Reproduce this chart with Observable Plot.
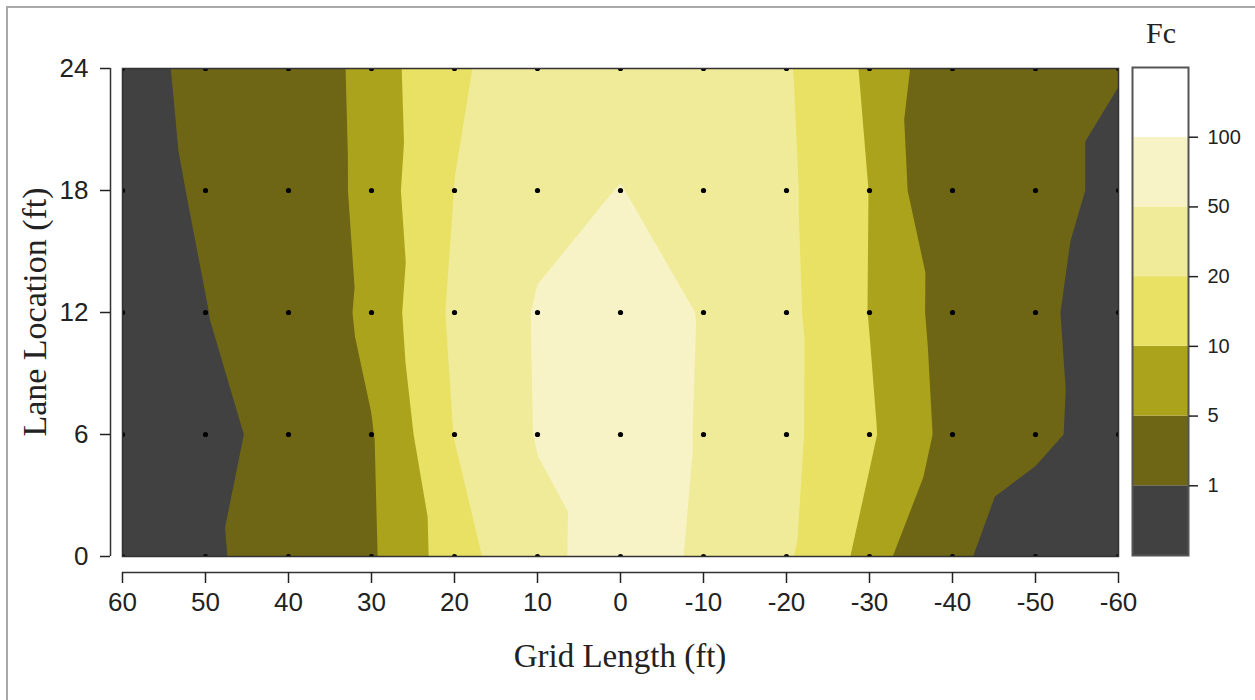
<!DOCTYPE html>
<html><head><meta charset="utf-8">
<script src="https://cdn.jsdelivr.net/npm/d3@7"></script>
<script src="https://cdn.jsdelivr.net/npm/@observablehq/plot@0.6"></script>
<style>
body{margin:0;background:#fff;}
#wrap{position:relative;width:1255px;height:700px;overflow:hidden;background:#fff;}
#border{position:absolute;left:6px;top:6px;right:-10px;bottom:-10px;border-left:2px solid #a9a9a9;border-top:2px solid #a9a9a9;}
.title{position:absolute;font-family:"Liberation Serif","Times New Roman",serif;color:#222;white-space:nowrap;}
</style></head><body>
<div id="wrap">
<div id="border"></div>
<div id="main" style="position:absolute;left:0;top:0"></div>
<div id="legend" style="position:absolute;left:1122px;top:0"></div>
<div class="title" style="left:470px;width:300px;text-align:center;top:640px;font-size:33px;line-height:33px">Grid Length (ft)</div>
<div class="title" style="left:-115px;width:300px;text-align:center;top:295px;font-size:34px;line-height:34px;transform:rotate(-90deg)">Lane Location (ft)</div>
<div class="title" style="left:1111px;width:100px;text-align:center;top:18px;font-size:30px;line-height:30px">Fc</div>
</div>
<script>
// Grid measurement positions
const gridLength = [60, 50, 40, 30, 20, 10, 0, -10, -20, -30, -40, -50, -60];
const laneLocation = [0, 6, 12, 18, 24];
// Fc values per lane row
const fcLane0  = [0.25, 0.78, 2.0, 4.6, 14.2, 39.8, 75, 44, 21.9, 7.9, 1.54, 0.27, 0.16];
const fcLane6  = [0.20, 0.50, 2.24, 4.8, 20.4, 52.4, 74, 47.1, 23.5, 11.0, 3.9, 1.58, 0.41];
const fcLane12 = [0.32, 0.96, 2.56, 6.1, 23.2, 53.5, 70.8, 48.1, 23.6, 9.8, 3.59, 1.41, 0.45];
const fcLane18 = [0.48, 1.26, 2.3, 6.8, 20.2, 39.8, 51, 35.5, 22.6, 9.9, 2.24, 1.78, 0.68];
const fcLane24 = [0.62, 1.41, 2.31, 7.1, 18.2, 28.2, 35.5, 31.6, 21.4, 8.9, 2.74, 1.78, 1.07];
// Contour levels and legend
const levels = [1, 5, 10, 20, 50, 100];
const legendLabels = ["1", "5", "10", "20", "50", "100"];
const bandColors = ["#414141", "#6e6614", "#aca31c", "#e8e163", "#f0eb98", "#f7f3c6", "#ffffff"];

const fcRows = [fcLane0, fcLane6, fcLane12, fcLane18, fcLane24];
const points = laneLocation.flatMap((y, j) => gridLength.map((x, i) => ({x, y, fc: fcRows[j][i]})));
const logLevels = levels.map(v => Math.log10(v));
const sans = "'Liberation Sans', Arial, sans-serif";

const main = Plot.plot({
  width: 1150, height: 630,
  marginTop: 68, marginBottom: 74, marginLeft: 122, marginRight: 32,
  x: {domain: [60, -60]},
  y: {domain: [0, 24]},
  color: {type: "threshold", domain: logLevels, range: bandColors},
  style: {fontFamily: sans, color: "#222", background: "transparent"},
  marks: [
    Plot.contour(points, {
      x: "x", y: "y", value: d => Math.log10(d.fc),
      fill: "value", stroke: "none",
      thresholds: [-10, ...logLevels],
      interpolate: "barycentric", pixelSize: 1, clip: true
    }),
    Plot.dot(points, {x: "x", y: "y", r: 2.6, fill: "#000", stroke: "none", clip: true}),
    Plot.frame({stroke: "#333", strokeWidth: 1.5}),
    Plot.ruleY([0], {dy: 16, stroke: "#333", strokeWidth: 1.5}),
    Plot.axisX(gridLength, {anchor: "bottom", dy: 16, tickSize: 11, tickPadding: 9, fontSize: 26,
      tickFormat: d => String(d), label: null, strokeWidth: 1.5, color: "#222"}),
    Plot.ruleX([60], {dx: -12, stroke: "#333", strokeWidth: 1.5}),
    Plot.axisY(laneLocation, {anchor: "left", dx: -12, tickSize: 10, tickPadding: 12, fontSize: 26,
      tickFormat: d => String(d), label: null, strokeWidth: 1.5, color: "#222"})
  ]
});
document.getElementById("main").appendChild(main);

const legendIdx = d3.range(bandColors.length);
const legend = Plot.plot({
  width: 133, height: 630,
  marginTop: 67, marginBottom: 75, marginLeft: 10, marginRight: 67,
  x: {domain: [0, 1], axis: null},
  y: {domain: [0, bandColors.length], axis: null},
  color: {type: "identity"},
  style: {fontFamily: sans, color: "#222", background: "transparent"},
  marks: [
    Plot.rect(legendIdx, {x1: () => 0, x2: () => 1, y1: i => i, y2: i => i + 1, fill: i => bandColors[i]}),
    Plot.frame({stroke: "#555", strokeWidth: 2}),
    Plot.axisY(d3.range(1, levels.length + 1), {anchor: "right", tickSize: 9, tickPadding: 10, fontSize: 20,
      tickFormat: i => legendLabels[i - 1], label: null, strokeWidth: 1.5, color: "#222"})
  ]
});
document.getElementById("legend").appendChild(legend);
</script>
</body></html>
